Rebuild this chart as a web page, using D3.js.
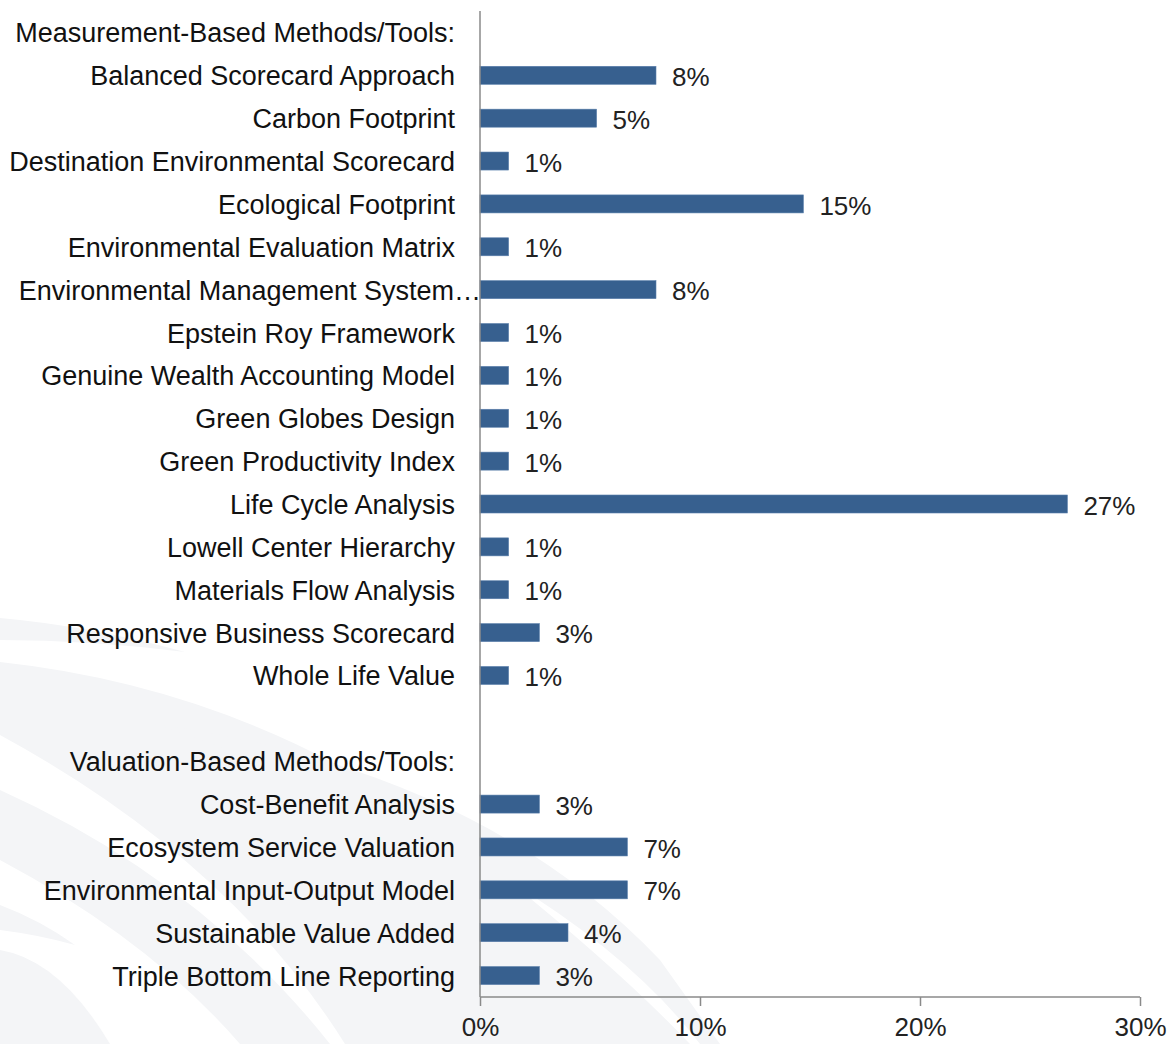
<!DOCTYPE html>
<html>
<head>
<meta charset="utf-8">
<script src="https://cdn.jsdelivr.net/npm/d3@7"></script>
<style>
  body { margin: 0; background: #fff; }
  svg { display: block; }
  .cat { font-family: "Liberation Sans", Arial, sans-serif; font-size: 27px; fill: #111; }
  .val { font-family: "Liberation Sans", Arial, sans-serif; font-size: 26px; fill: #222; }
  .axis text { font-family: "Liberation Sans", Arial, sans-serif; font-size: 26px; fill: #222; }
</style>
</head>
<body>
<div id="chart"></div>
<script>
//rows of the chart, blank row between the two groups
var categories = ["Measurement-Based Methods/Tools:", "Balanced Scorecard Approach", "Carbon Footprint",
    "Destination Environmental Scorecard", "Ecological Footprint", "Environmental Evaluation Matrix",
    "Environmental Management System\u2026", "Epstein Roy Framework", "Genuine Wealth Accounting Model",
    "Green Globes Design", "Green Productivity Index", "Life Cycle Analysis", "Lowell Center Hierarchy",
    "Materials Flow Analysis", "Responsive Business Scorecard", "Whole Life Value", "",
    "Valuation-Based Methods/Tools:", "Cost-Benefit Analysis", "Ecosystem Service Valuation",
    "Environmental Input-Output Model", "Sustainable Value Added", "Triple Bottom Line Reporting"];
//percent values (null = no bar)
var values = [null, 8.0, 5.3, 1.3, 14.7, 1.3, 8.0, 1.3, 1.3, 1.3, 1.3, 26.7, 1.3, 1.3, 2.7, 1.3, null,
    null, 2.7, 6.7, 6.7, 4.0, 2.7];
var valueLabels = ["", "8%", "5%", "1%", "15%", "1%", "8%", "1%", "1%", "1%", "1%", "27%", "1%", "1%", "3%", "1%", "",
    "", "3%", "7%", "7%", "4%", "3%"];
var xTicks = [0, 10, 20, 30];

var width = 1172, height = 1044;
var plotLeft = 480, plotRight = 1140, plotTop = 11, plotBottom = 997;

var svg = d3.select("#chart").append("svg").attr("width", width).attr("height", height);

//faint background swooshes
var bg = svg.append("g").attr("fill", "#f4f5f7");
bg.append("path").attr("d", "M0,618 Q90,626 185,652 Q90,640 0,640 Z");
bg.append("path").attr("d", "M0,662 Q260,690 470,850 Q610,960 690,1044 L345,1044 Q230,860 0,735 Z");
bg.append("path").attr("d", "M155,724 Q480,770 660,960 L720,1044 L700,1044 Q560,860 155,724 Z");
bg.append("path").attr("d", "M0,790 Q200,880 330,1044 L240,1044 Q150,940 0,860 Z");
bg.append("path").attr("d", "M0,905 Q40,920 75,945 Q40,935 0,930 Z");
bg.append("path").attr("d", "M0,950 Q60,960 110,1044 L0,1044 Z");

var rows = d3.range(categories.length);

var x = d3.scaleLinear().domain([0, 30]).range([plotLeft, plotRight]);
var y = d3.scaleBand().domain(rows).range([plotTop, plotBottom]).paddingInner(0.58).paddingOuter(0.29);

//bars
var barRows = rows.filter(function(i){ return values[i] != null; });
svg.selectAll("rect.bar")
    .data(barRows)
    .enter().append("rect")
    .attr("class", "bar")
    .attr("x", x(0))
    .attr("y", function(i){ return y(i); })
    .attr("width", function(i){ return x(values[i]) - x(0); })
    .attr("height", y.bandwidth())
    .attr("fill", "#37608f")
    .attr("stroke", "#5a7fab")
    .attr("stroke-width", 0.6);

//value labels
svg.selectAll("text.val")
    .data(barRows)
    .enter().append("text")
    .attr("class", "val")
    .attr("x", function(i){ return x(values[i]) + 16; })
    .attr("y", function(i){ return y(i) + y.bandwidth() / 2 + 1; })
    .attr("dy", "0.37em")
    .text(function(i){ return valueLabels[i]; });

//category labels
svg.selectAll("text.cat")
    .data(rows)
    .enter().append("text")
    .attr("class", "cat")
    .attr("text-anchor", "end")
    .attr("x", function(i){ return categories[i].slice(-1) == "\u2026" ? plotLeft + 1 : plotLeft - 25; })
    .attr("y", function(i){ return y(i) + y.bandwidth() / 2; })
    .attr("dy", "0.37em")
    .text(function(i){ return categories[i]; });

//x axis
var xA = d3.axisBottom(x).tickValues(xTicks).tickSize(9).tickPadding(12)
    .tickFormat(function(d){ return d + "%"; });
var gx = svg.append("g")
    .attr("class", "axis")
    .attr("transform", "translate(0," + plotBottom + ")")
    .call(xA);
gx.select(".domain").attr("stroke", "#8a8a8a").attr("stroke-width", 1.5).attr("d", "M" + plotLeft + ",0H" + plotRight);
gx.selectAll(".tick line").attr("stroke", "#8a8a8a").attr("stroke-width", 1.5);

//y axis line
svg.append("line")
    .attr("x1", plotLeft).attr("x2", plotLeft)
    .attr("y1", plotTop).attr("y2", plotBottom)
    .attr("stroke", "#8a8a8a").attr("stroke-width", 1.5);
</script>
</body>
</html>
